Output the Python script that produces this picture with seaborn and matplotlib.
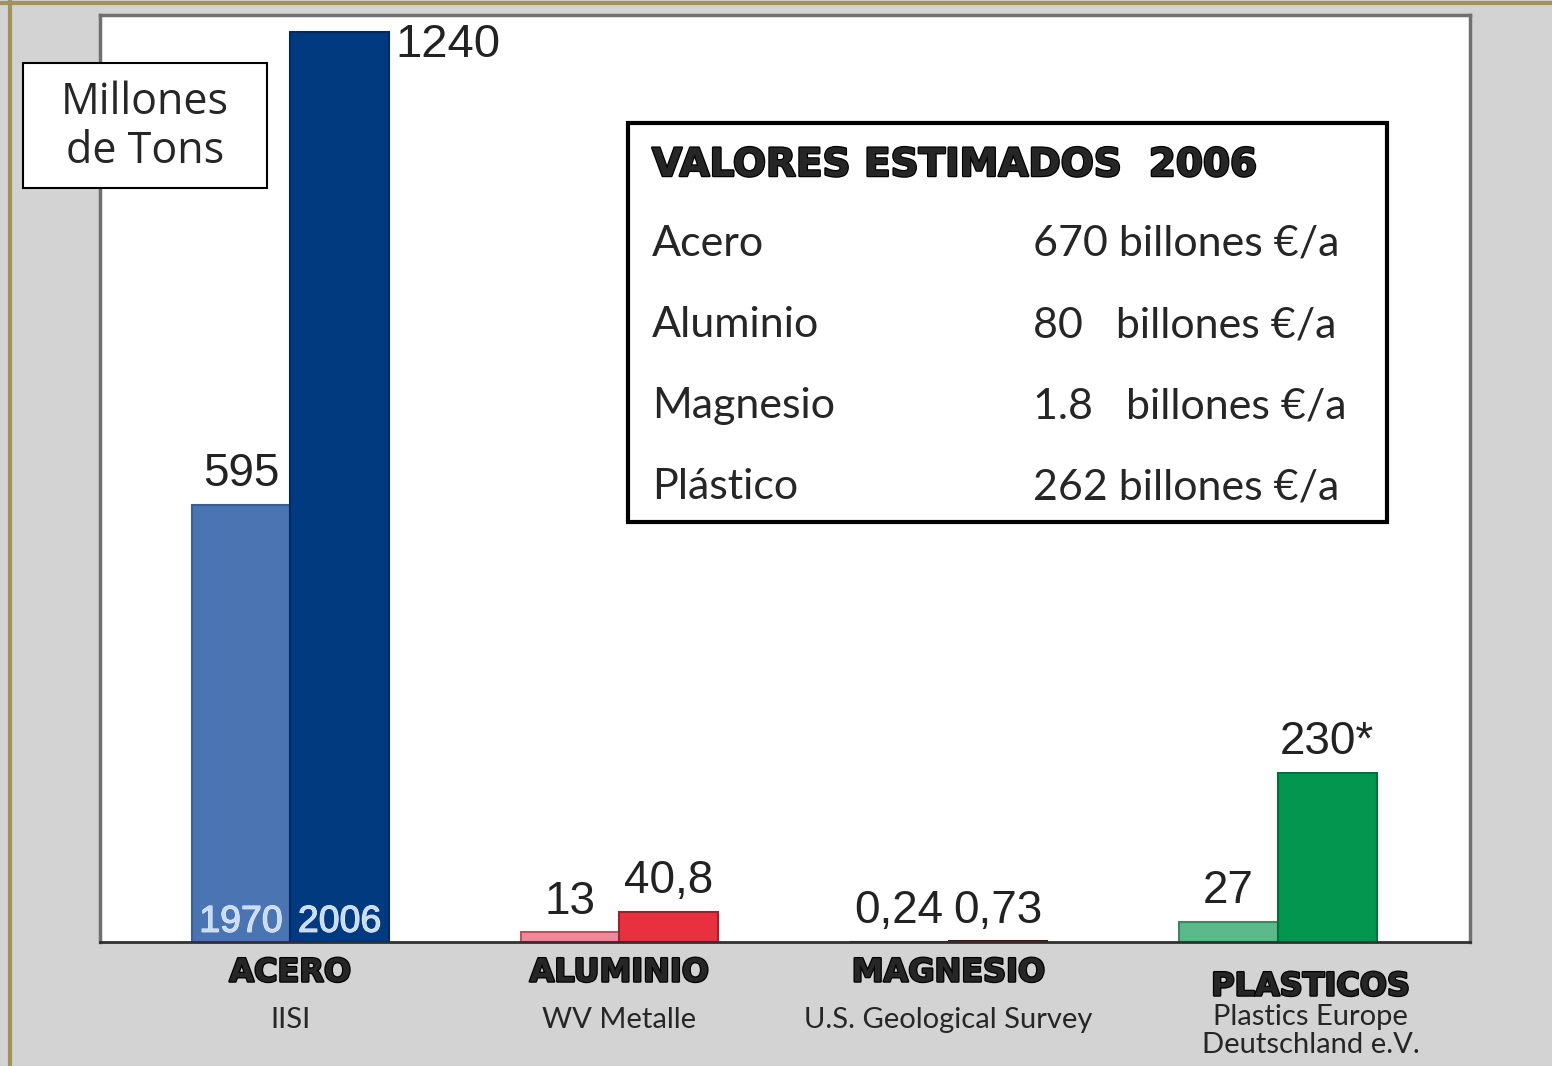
import pandas as pd
import numpy as np
import matplotlib.pyplot as plt
import seaborn as sns
from matplotlib.patches import Rectangle
from matplotlib.lines import Line2D
from matplotlib import patheffects as pe
from matplotlib.transforms import blended_transform_factory

materiales = ["ACERO", "ALUMINIO", "MAGNESIO", "PLASTICOS"]
fuentes = ["IISI", "WV Metalle", "U.S. Geological Survey", "Plastics Europe\nDeutschland e.V."]
anios = ["1970", "2006"]
valores_1970 = [595, 13, 0.24, 27]
valores_2006 = [1240, 40.8, 0.73, 230]
etiquetas_1970 = ["595", "13", "0,24", "27"]
etiquetas_2006 = ["1240", "40,8", "0,73", "230*"]
colores_1970 = ["#4a74b2", "#f2899a", "#3c2a2a", "#5cb98a"]
colores_2006 = ["#023a80", "#e8303e", "#5a2e30", "#02964f"]
bordes_1970 = ["#3a5f95", "#c05060", "#2a1a1a", "#3a8a60"]
bordes_2006 = ["#012a60", "#a02030", "#3a1a1a", "#01703a"]

tabla_nombres = ["Acero", "Aluminio", "Magnesio", "Plástico"]
tabla_valores = ["670 billones €/a", "80   billones €/a", "1.8   billones €/a", "262 billones €/a"]

df = pd.DataFrame({
    "material": materiales * 2,
    "anio": [anios[0]] * 4 + [anios[1]] * 4,
    "valor": valores_1970 + valores_2006,
})

W, H = 1552, 1066


def fx(x):
    return x / W


def fy(y):
    return 1 - y / H


sns.set_style("white")
plt.rcParams["font.family"] = ["Liberation Sans", "DejaVu Sans"]

fig = plt.figure(figsize=(W / 100, H / 100), dpi=100, facecolor="#d3d3d3")
ax = fig.add_axes([fx(100), fy(942), (1470 - 100) / W, (942 - 15) / H])
ax.set_facecolor("white")

sns.barplot(data=df, x="material", y="valor", hue="anio", hue_order=anios,
            order=materiales, width=0.6, saturation=1, legend=False, ax=ax)

for cont, cols, eds in zip(ax.containers, [colores_1970, colores_2006], [bordes_1970, bordes_2006]):
    for bar, c, e in zip(cont, cols, eds):
        bar.set_facecolor(c)
        bar.set_edgecolor(e)
        bar.set_linewidth(1.5)

ax.set_xlim(-0.578, 3.584)
ax.set_ylim(0, 1263)
ax.set_xticks([])
ax.set_yticks([])
ax.set_xlabel("")
ax.set_ylabel("")
for side in ["left", "top", "right"]:
    ax.spines[side].set_color("#707070")
    ax.spines[side].set_linewidth(2.5)
ax.spines["bottom"].set_color("#303030")
ax.spines["bottom"].set_linewidth(2)

# value labels
for i, (cont, labs) in enumerate(zip(ax.containers, [etiquetas_1970, etiquetas_2006])):
    for j, (bar, lab) in enumerate(zip(cont, labs)):
        cx = bar.get_x() + bar.get_width() / 2
        top = bar.get_height()
        if i == 1 and j == 0:
            ax.text(bar.get_x() + bar.get_width() + 0.02, top + 12, lab, ha="left", va="top",
                    fontsize=34, color="#222222")
        else:
            ax.text(cx, top + 12, lab, ha="center", va="bottom", fontsize=33, color="#222222")

# year labels inside the steel bars
for cont, anio in zip(ax.containers, anios):
    bar = cont[0]
    ax.text(bar.get_x() + bar.get_width() / 2, 3, anio, ha="center", va="bottom",
            fontsize=27, color="#c9dcf6",
            path_effects=[pe.withStroke(linewidth=0.8, foreground="#f2f7ff")])

# category and source labels under the axis
trans = blended_transform_factory(ax.transData, fig.transFigure)
heavy = ["DejaVu Sans"]
light = ["Liberation Sans Narrow", "Lato", "DejaVu Sans"]
grueso = [pe.withStroke(linewidth=1.8, foreground="black")]
for k, (mat, src) in enumerate(zip(materiales, fuentes)):
    dx = 0.1 if k == 3 else 0.0
    ymat = 987 if k == 3 else 973
    ax.text(k + dx, fy(ymat), mat, transform=trans, ha="center", va="center",
            fontsize=23, fontweight="bold", family=heavy, clip_on=False, path_effects=grueso)
    ysrc = 1031 if k == 3 else 1020
    ax.text(k + dx, fy(ysrc), src, transform=trans, ha="center", va="center",
            fontsize=21, family=light, linespacing=1.12, clip_on=False)

# "Millones de Tons" box
fig.patches.append(Rectangle((fx(23), fy(188)), (267 - 23) / W, (188 - 63) / H,
                             transform=fig.transFigure, facecolor="white",
                             edgecolor="black", linewidth=1.5, zorder=2))
fig.text(fx(145), fy(127), "Millones\nde Tons", ha="center", va="center", fontsize=31,
         family=["Open Sans", "DejaVu Sans"], linespacing=1.12, zorder=3)

# table box
fig.patches.append(Rectangle((fx(628), fy(522)), (1387 - 628) / W, (522 - 123) / H,
                             transform=fig.transFigure, facecolor="white",
                             edgecolor="black", linewidth=3, zorder=2))
fig.text(fx(652), fy(165), "VALORES ESTIMADOS  2006", ha="left", va="center",
         fontsize=28, fontweight="bold", family=heavy, zorder=3, path_effects=grueso)
for r, (nom, val) in enumerate(zip(tabla_nombres, tabla_valores)):
    yy = 244 + r * 81
    fig.text(fx(652), fy(yy), nom, ha="left", va="center", fontsize=31, family=light, zorder=3)
    fig.text(fx(1033), fy(yy), val, ha="left", va="center", fontsize=31, family=light, zorder=3)

# outer frame
fig.add_artist(Line2D([0, 1], [fy(3), fy(3)], transform=fig.transFigure, color="#a0925a", linewidth=3))
fig.add_artist(Line2D([fx(10), fx(10)], [0, 1], transform=fig.transFigure, color="#a0925a", linewidth=3))

fig.savefig("out.png", dpi=100, facecolor=fig.get_facecolor())
